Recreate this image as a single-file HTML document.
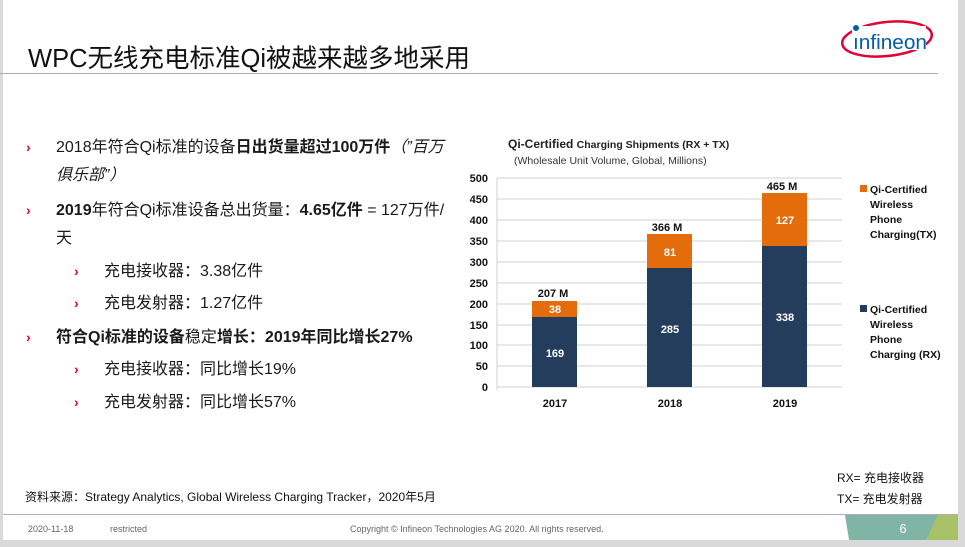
<!DOCTYPE html>
<html><head><meta charset="utf-8"><style>
body{margin:0;width:965px;height:547px;background:#d9d9d9;position:relative;overflow:hidden;font-family:"Liberation Sans","Noto Sans CJK SC",sans-serif;}
#s{position:absolute;left:3px;top:0;width:955px;height:540px;background:#fff;}
.a{position:absolute;white-space:nowrap;}
.t{font-size:16px;color:#1a1a1a;line-height:18px;}
.ar{color:#e30034;font-size:14px;font-weight:bold;}
b{font-weight:bold;}
</style></head><body>
<div id="s"></div>
<div class="a" style="left:28px;top:38px;font-size:25.5px;color:#111;">WPC无线充电标准Qi被越来越多地采用</div>
<div style="position:absolute;left:0;top:73px;width:938px;height:1px;background:#b9a9b3"></div>
<svg style="position:absolute;left:838px;top:12px" width="100" height="50">
<ellipse cx="49" cy="27" rx="45" ry="17" fill="none" stroke="#e30034" stroke-width="2.5" transform="rotate(-6 49 27)"/>
<rect x="14" y="14" width="74" height="24" fill="#fff"/>
<circle cx="18" cy="16" r="3" fill="#005da9"/>
<text x="15" y="37" font-family="Liberation Sans" font-size="20" fill="#005da9" textLength="74" lengthAdjust="spacingAndGlyphs">ınfineon</text>
</svg>
<div class="a ar" style="left:26px;top:139px">›</div>
<div class="a t" style="left:56px;top:139px">2018年符合Qi标准的设备<b>日出货量超过100万件</b><i>（”百万</i></div>
<div class="a t" style="left:56px;top:167px"><i>俱乐部”）</i></div>
<div class="a ar" style="left:26px;top:202px">›</div>
<div class="a t" style="left:56px;top:202px"><b>2019</b>年符合Qi标准设备总出货量：<b>4.65亿件</b> = 127万件/</div>
<div class="a t" style="left:56px;top:230px">天</div>
<div class="a ar" style="left:74px;top:263px">›</div>
<div class="a t" style="left:104px;top:263px">充电接收器：3.38亿件</div>
<div class="a ar" style="left:74px;top:295px">›</div>
<div class="a t" style="left:104px;top:295px">充电发射器：1.27亿件</div>
<div class="a ar" style="left:26px;top:329px">›</div>
<div class="a t" style="left:56px;top:329px"><b>符合Qi标准的设备</b>稳定<b>增长：2019年同比增长27%</b></div>
<div class="a ar" style="left:74px;top:361px">›</div>
<div class="a t" style="left:104px;top:361px">充电接收器：同比增长19%</div>
<div class="a ar" style="left:74px;top:394px">›</div>
<div class="a t" style="left:104px;top:394px">充电发射器：同比增长57%</div>

<svg style="position:absolute;left:0;top:0" width="965" height="547" font-family="Liberation Sans, sans-serif">
<text x="508" y="148" font-size="12" font-weight="bold" fill="#222">Qi-Certified <tspan font-size="10.5">Charging Shipments (RX + TX)</tspan></text>
<text x="514" y="164" font-size="10.5" fill="#333">(Wholesale Unit Volume, Global, Millions)</text>
<g stroke="#d0d0d0" stroke-width="1">
<line x1="497" x2="842" y1="178" y2="178"/><line x1="497" x2="842" y1="199" y2="199"/><line x1="497" x2="842" y1="220" y2="220"/><line x1="497" x2="842" y1="241" y2="241"/><line x1="497" x2="842" y1="262" y2="262"/><line x1="497" x2="842" y1="283" y2="283"/><line x1="497" x2="842" y1="304" y2="304"/><line x1="497" x2="842" y1="325" y2="325"/><line x1="497" x2="842" y1="345" y2="345"/><line x1="497" x2="842" y1="366" y2="366"/>
<line x1="497" x2="497" y1="178" y2="390"/><line x1="497" x2="842" y1="387" y2="387"/>
</g>
<g font-size="11" font-weight="bold" fill="#111" text-anchor="end">
<text x="488" y="182">500</text><text x="488" y="203">450</text><text x="488" y="224">400</text><text x="488" y="245">350</text><text x="488" y="266">300</text><text x="488" y="287">250</text><text x="488" y="308">200</text><text x="488" y="329">150</text><text x="488" y="349">100</text><text x="488" y="370">50</text><text x="488" y="391">0</text>
</g>
<rect x="532" y="316" width="45" height="71" fill="#243d5c"/><rect x="532" y="301" width="45" height="16" fill="#e46c0a"/>
<rect x="647" y="268" width="45" height="119" fill="#243d5c"/><rect x="647" y="234" width="45" height="34" fill="#e46c0a"/>
<rect x="762" y="246" width="45" height="141" fill="#243d5c"/><rect x="762" y="193" width="45" height="53" fill="#e46c0a"/>
<g font-size="11" font-weight="bold" text-anchor="middle">
<text x="555" y="357" fill="#fff">169</text><text x="555" y="313" fill="#fff">38</text><text x="553" y="297" fill="#111">207 M</text>
<text x="670" y="333" fill="#fff">285</text><text x="670" y="256" fill="#fff">81</text><text x="667" y="231" fill="#111">366 M</text>
<text x="785" y="321" fill="#fff">338</text><text x="785" y="224" fill="#fff">127</text><text x="782" y="190" fill="#111">465 M</text>
<text x="555" y="407" fill="#111">2017</text><text x="670" y="407" fill="#111">2018</text><text x="785" y="407" fill="#111">2019</text>
</g>
<g font-size="10.5" font-weight="bold" fill="#111">
<rect x="860" y="185" width="7" height="7" fill="#e46c0a"/>
<text x="870" y="193">Qi-Certified</text><text x="870" y="208">Wireless</text><text x="870" y="223">Phone</text><text x="870" y="238">Charging(TX)</text>
<rect x="860" y="305" width="7" height="7" fill="#243d5c"/>
<text x="870" y="313">Qi-Certified</text><text x="870" y="328">Wireless</text><text x="870" y="343">Phone</text><text x="870" y="358">Charging (RX)</text>
</g>
</svg>
<div class="a" style="left:837px;top:469px;font-size:12px;color:#111">RX= 充电接收器</div>
<div class="a" style="left:837px;top:490px;font-size:12px;color:#111">TX= 充电发射器</div>
<div class="a" style="left:25px;top:488px;font-size:12px;color:#111">资料来源：Strategy Analytics, Global Wireless Charging Tracker，2020年5月</div>
<div style="position:absolute;left:3px;top:514px;width:955px;height:1px;background:#b9aab3"></div>
<div class="a" style="left:28px;top:524px;font-size:9px;color:#666">2020-11-18</div>
<div class="a" style="left:110px;top:524px;font-size:9px;color:#666">restricted</div>
<div class="a" style="left:350px;top:524px;font-size:9px;color:#666">Copyright © Infineon Technologies AG 2020. All rights reserved.</div>
<svg style="position:absolute;left:845px;top:515px" width="113" height="25">
<polygon points="0,0 113,0 113,25 4,25" fill="#80b5a5"/>
<polygon points="93,0 113,0 113,25 81,25" fill="#a8c26a"/>
<text x="58" y="18" font-family="Liberation Sans" font-size="13" fill="#fff" text-anchor="middle">6</text>
</svg>
</body></html>
